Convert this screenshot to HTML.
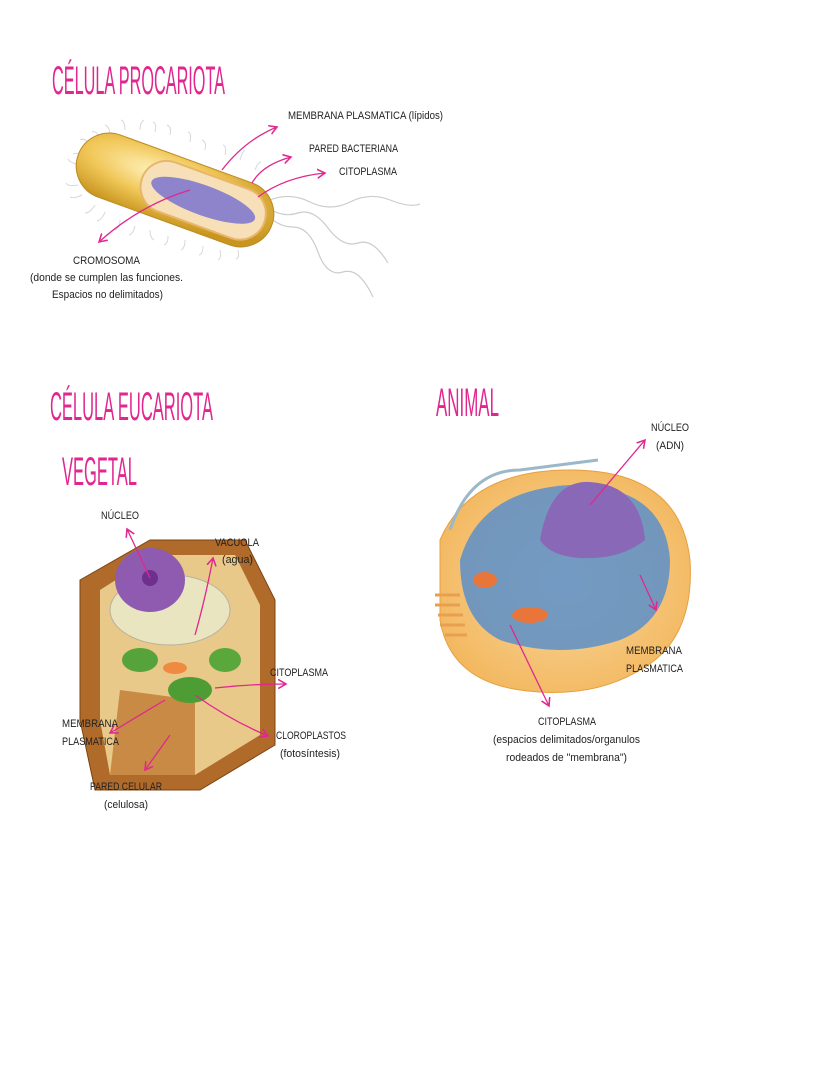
<!DOCTYPE html>
<html><head><meta charset="utf-8"><style>
html,body{margin:0;padding:0;background:#fff;}
svg{display:block}
.t{font-family:"Liberation Sans",sans-serif;fill:#e2268f;}
.l{font-family:"Liberation Sans",sans-serif;fill:#222;font-size:11px;}
.a{stroke:#e0288e;stroke-width:1.3;fill:none}
</style></head><body>
<svg width="828" height="1069" viewBox="0 0 828 1069" xmlns="http://www.w3.org/2000/svg">
<defs>
<marker id="m" markerWidth="8" markerHeight="8" refX="6" refY="4" orient="auto"><path d="M0,0.5 L6,4 L0,7.5" fill="none" stroke="#e0288e" stroke-width="1.2"/></marker>
<radialGradient id="gold" cx="40%" cy="35%" r="70%"><stop offset="0" stop-color="#fff3c0"/><stop offset="0.5" stop-color="#f1c85a"/><stop offset="1" stop-color="#c8951e"/></radialGradient>
<radialGradient id="anim" cx="50%" cy="50%" r="60%"><stop offset="0" stop-color="#f9d9a0"/><stop offset="1" stop-color="#f2b55a"/></radialGradient>
</defs>

<text class="t" x="52" y="94" font-size="40" textLength="173" lengthAdjust="spacingAndGlyphs">CÉLULA PROCARIOTA</text>
<text class="t" x="50" y="420" font-size="40" textLength="163" lengthAdjust="spacingAndGlyphs">CÉLULA EUCARIOTA</text>
<text class="t" x="62" y="485" font-size="40" textLength="75" lengthAdjust="spacingAndGlyphs">VEGETAL</text>
<text class="t" x="436" y="416" font-size="40" textLength="63" lengthAdjust="spacingAndGlyphs">ANIMAL</text>

<!-- bacterium -->
<g stroke="#ccc" stroke-width="1.2" fill="none">
<path d="M270,200 q20,-8 40,2 t40,0 t40,-2 t30,4"/>
<path d="M268,208 q15,10 30,5 t30,15 t30,15 t30,20"/>
<path d="M265,212 q12,15 28,15 t25,25 t25,20 t30,25"/>
</g>
<g stroke="#d8d8d8" stroke-width="1" fill="none">
<path d="M90,145 q-5,-8 -10,-5 M80,165 q-10,-2 -12,-6 M78,185 q-10,2 -12,-2 M95,205 q-5,8 -10,8 M120,220 q0,8 -5,10 M150,230 q0,8 4,10 M185,240 q0,8 -4,10 M220,250 q2,8 -2,10 M110,135 q0,-8 -5,-10 M140,130 q0,-8 4,-10 M170,135 q2,-8 -3,-10 M205,150 q2,-8 -3,-10 M240,160 q2,-8 5,-10 M100,138 q-4,-8 -8,-6 M125,130 q0,-9 -4,-10 M155,132 q2,-9 -2,-10 M190,142 q2,-9 -2,-10 M225,155 q2,-9 -2,-10 M255,170 q3,-8 6,-8 M105,212 q-3,8 -8,9 M135,226 q-2,8 -6,9 M168,236 q0,8 -4,9 M203,246 q0,8 -4,9 M238,250 q2,8 -2,9 M85,155 q-8,-3 -12,-1 M82,195 q-8,4 -12,2"/>
</g>
<g transform="rotate(20 175 190)">
<rect x="72" y="157" width="206" height="66" rx="33" fill="url(#gold)" stroke="#b98a20"/>
<rect x="140" y="164" width="130" height="52" rx="26" fill="#f7dfb8" stroke="#e8b66a" stroke-width="2"/>
<ellipse cx="205" cy="190" rx="55" ry="15" fill="#8d84cc"/>
</g>
<path class="a" marker-end="url(#m)" d="M222,170 Q245,140 277,127"/>
<path class="a" marker-end="url(#m)" d="M252,183 Q262,165 291,157"/>
<path class="a" marker-end="url(#m)" d="M258,197 Q285,177 325,173"/>
<path class="a" marker-end="url(#m)" d="M190,190 Q140,205 99,242"/>
<text class="l" x="288" y="119" textLength="155" lengthAdjust="spacingAndGlyphs">MEMBRANA PLASMATICA (lípidos)</text>
<text class="l" x="309" y="152" textLength="89" lengthAdjust="spacingAndGlyphs">PARED BACTERIANA</text>
<text class="l" x="339" y="175" textLength="58" lengthAdjust="spacingAndGlyphs">CITOPLASMA</text>
<text class="l" x="73" y="264" textLength="67" lengthAdjust="spacingAndGlyphs">CROMOSOMA</text>
<text class="l" x="30" y="281" textLength="153" lengthAdjust="spacingAndGlyphs">(donde se cumplen las funciones.</text>
<text class="l" x="52" y="298" textLength="111" lengthAdjust="spacingAndGlyphs">Espacios no delimitados)</text>

<!-- plant cell -->
<polygon points="80,580 150,540 245,540 275,600 275,745 200,790 95,790 80,720" fill="#b06a2a" stroke="#7a4414"/>
<polygon points="100,590 155,555 235,555 260,605 260,735 195,775 110,775 100,720" fill="#e9c98a"/>
<polygon points="120,690 195,700 195,775 110,775" fill="#c88a45"/>
<ellipse cx="170" cy="610" rx="60" ry="35" fill="#e8e5c0" stroke="#b7b09a"/>
<ellipse cx="150" cy="580" rx="35" ry="32" fill="#8e5bb1"/>
<circle cx="150" cy="578" r="8" fill="#6e2f8e"/>
<ellipse cx="140" cy="660" rx="18" ry="12" fill="#55a33a"/>
<ellipse cx="190" cy="690" rx="22" ry="13" fill="#4e9c34"/>
<ellipse cx="225" cy="660" rx="16" ry="12" fill="#5aa83c"/>
<ellipse cx="175" cy="668" rx="12" ry="6" fill="#f08a40"/>
<path class="a" marker-end="url(#m)" d="M150,578 L127,529"/>
<path class="a" marker-end="url(#m)" d="M195,635 Q205,600 213,558"/>
<path class="a" marker-end="url(#m)" d="M215,688 Q250,684 286,684"/>
<path class="a" marker-end="url(#m)" d="M195,695 Q230,720 268,736"/>
<path class="a" marker-end="url(#m)" d="M165,700 L110,733"/>
<path class="a" marker-end="url(#m)" d="M170,735 L145,770"/>
<text class="l" x="101" y="519" textLength="38" lengthAdjust="spacingAndGlyphs">NÚCLEO</text>
<text class="l" x="215" y="546" textLength="44" lengthAdjust="spacingAndGlyphs">VACUOLA</text>
<text class="l" x="222" y="563" textLength="31" lengthAdjust="spacingAndGlyphs">(agua)</text>
<text class="l" x="270" y="676" textLength="58" lengthAdjust="spacingAndGlyphs">CITOPLASMA</text>
<text class="l" x="62" y="727" textLength="56" lengthAdjust="spacingAndGlyphs">MEMBRANA</text>
<text class="l" x="62" y="745" textLength="57" lengthAdjust="spacingAndGlyphs">PLASMATICA</text>
<text class="l" x="276" y="739" textLength="70" lengthAdjust="spacingAndGlyphs">CLOROPLASTOS</text>
<text class="l" x="280" y="757" textLength="60" lengthAdjust="spacingAndGlyphs">(fotosíntesis)</text>
<text class="l" x="90" y="790" textLength="72" lengthAdjust="spacingAndGlyphs">PARED CELULAR</text>
<text class="l" x="104" y="808" textLength="44" lengthAdjust="spacingAndGlyphs">(celulosa)</text>

<!-- animal cell -->
<path d="M440,540 Q470,470 570,470 Q680,470 690,560 Q695,640 640,670 Q590,700 520,690 Q450,680 440,620 Z" fill="url(#anim)" stroke="#e7a040"/>
<path d="M460,560 Q480,490 570,485 Q665,485 670,560 Q670,620 620,640 Q560,660 500,640 Q460,620 460,560 Z" fill="#5c8fc9" opacity="0.85"/>
<path d="M540,540 Q550,480 590,482 Q640,485 645,540 Q620,560 580,558 Q550,556 540,540 Z" fill="#8a68b8"/>
<path d="M450,530 Q470,470 520,470 Q560,465 598,460" stroke="#9bb8c8" stroke-width="3" fill="none"/>
<ellipse cx="530" cy="615" rx="18" ry="8" fill="#e8763a"/>
<ellipse cx="485" cy="580" rx="12" ry="8" fill="#e8763a"/>
<g stroke="#e8a050" stroke-width="3"><path d="M435,595 h25 M435,605 h25 M438,615 h25 M440,625 h25 M445,635 h22"/></g>
<path class="a" marker-end="url(#m)" d="M590,505 L645,440"/>
<path class="a" marker-end="url(#m)" d="M640,575 L656,610"/>
<path class="a" marker-end="url(#m)" d="M510,625 L549,706"/>
<text class="l" x="651" y="431" textLength="38" lengthAdjust="spacingAndGlyphs">NÚCLEO</text>
<text class="l" x="656" y="449" textLength="28" lengthAdjust="spacingAndGlyphs">(ADN)</text>
<text class="l" x="626" y="654" textLength="56" lengthAdjust="spacingAndGlyphs">MEMBRANA</text>
<text class="l" x="626" y="672" textLength="57" lengthAdjust="spacingAndGlyphs">PLASMATICA</text>
<text class="l" x="538" y="725" textLength="58" lengthAdjust="spacingAndGlyphs">CITOPLASMA</text>
<text class="l" x="493" y="743" textLength="147" lengthAdjust="spacingAndGlyphs">(espacios delimitados/organulos</text>
<text class="l" x="506" y="761" textLength="121" lengthAdjust="spacingAndGlyphs">rodeados de "membrana")</text>
</svg>
</body></html>
